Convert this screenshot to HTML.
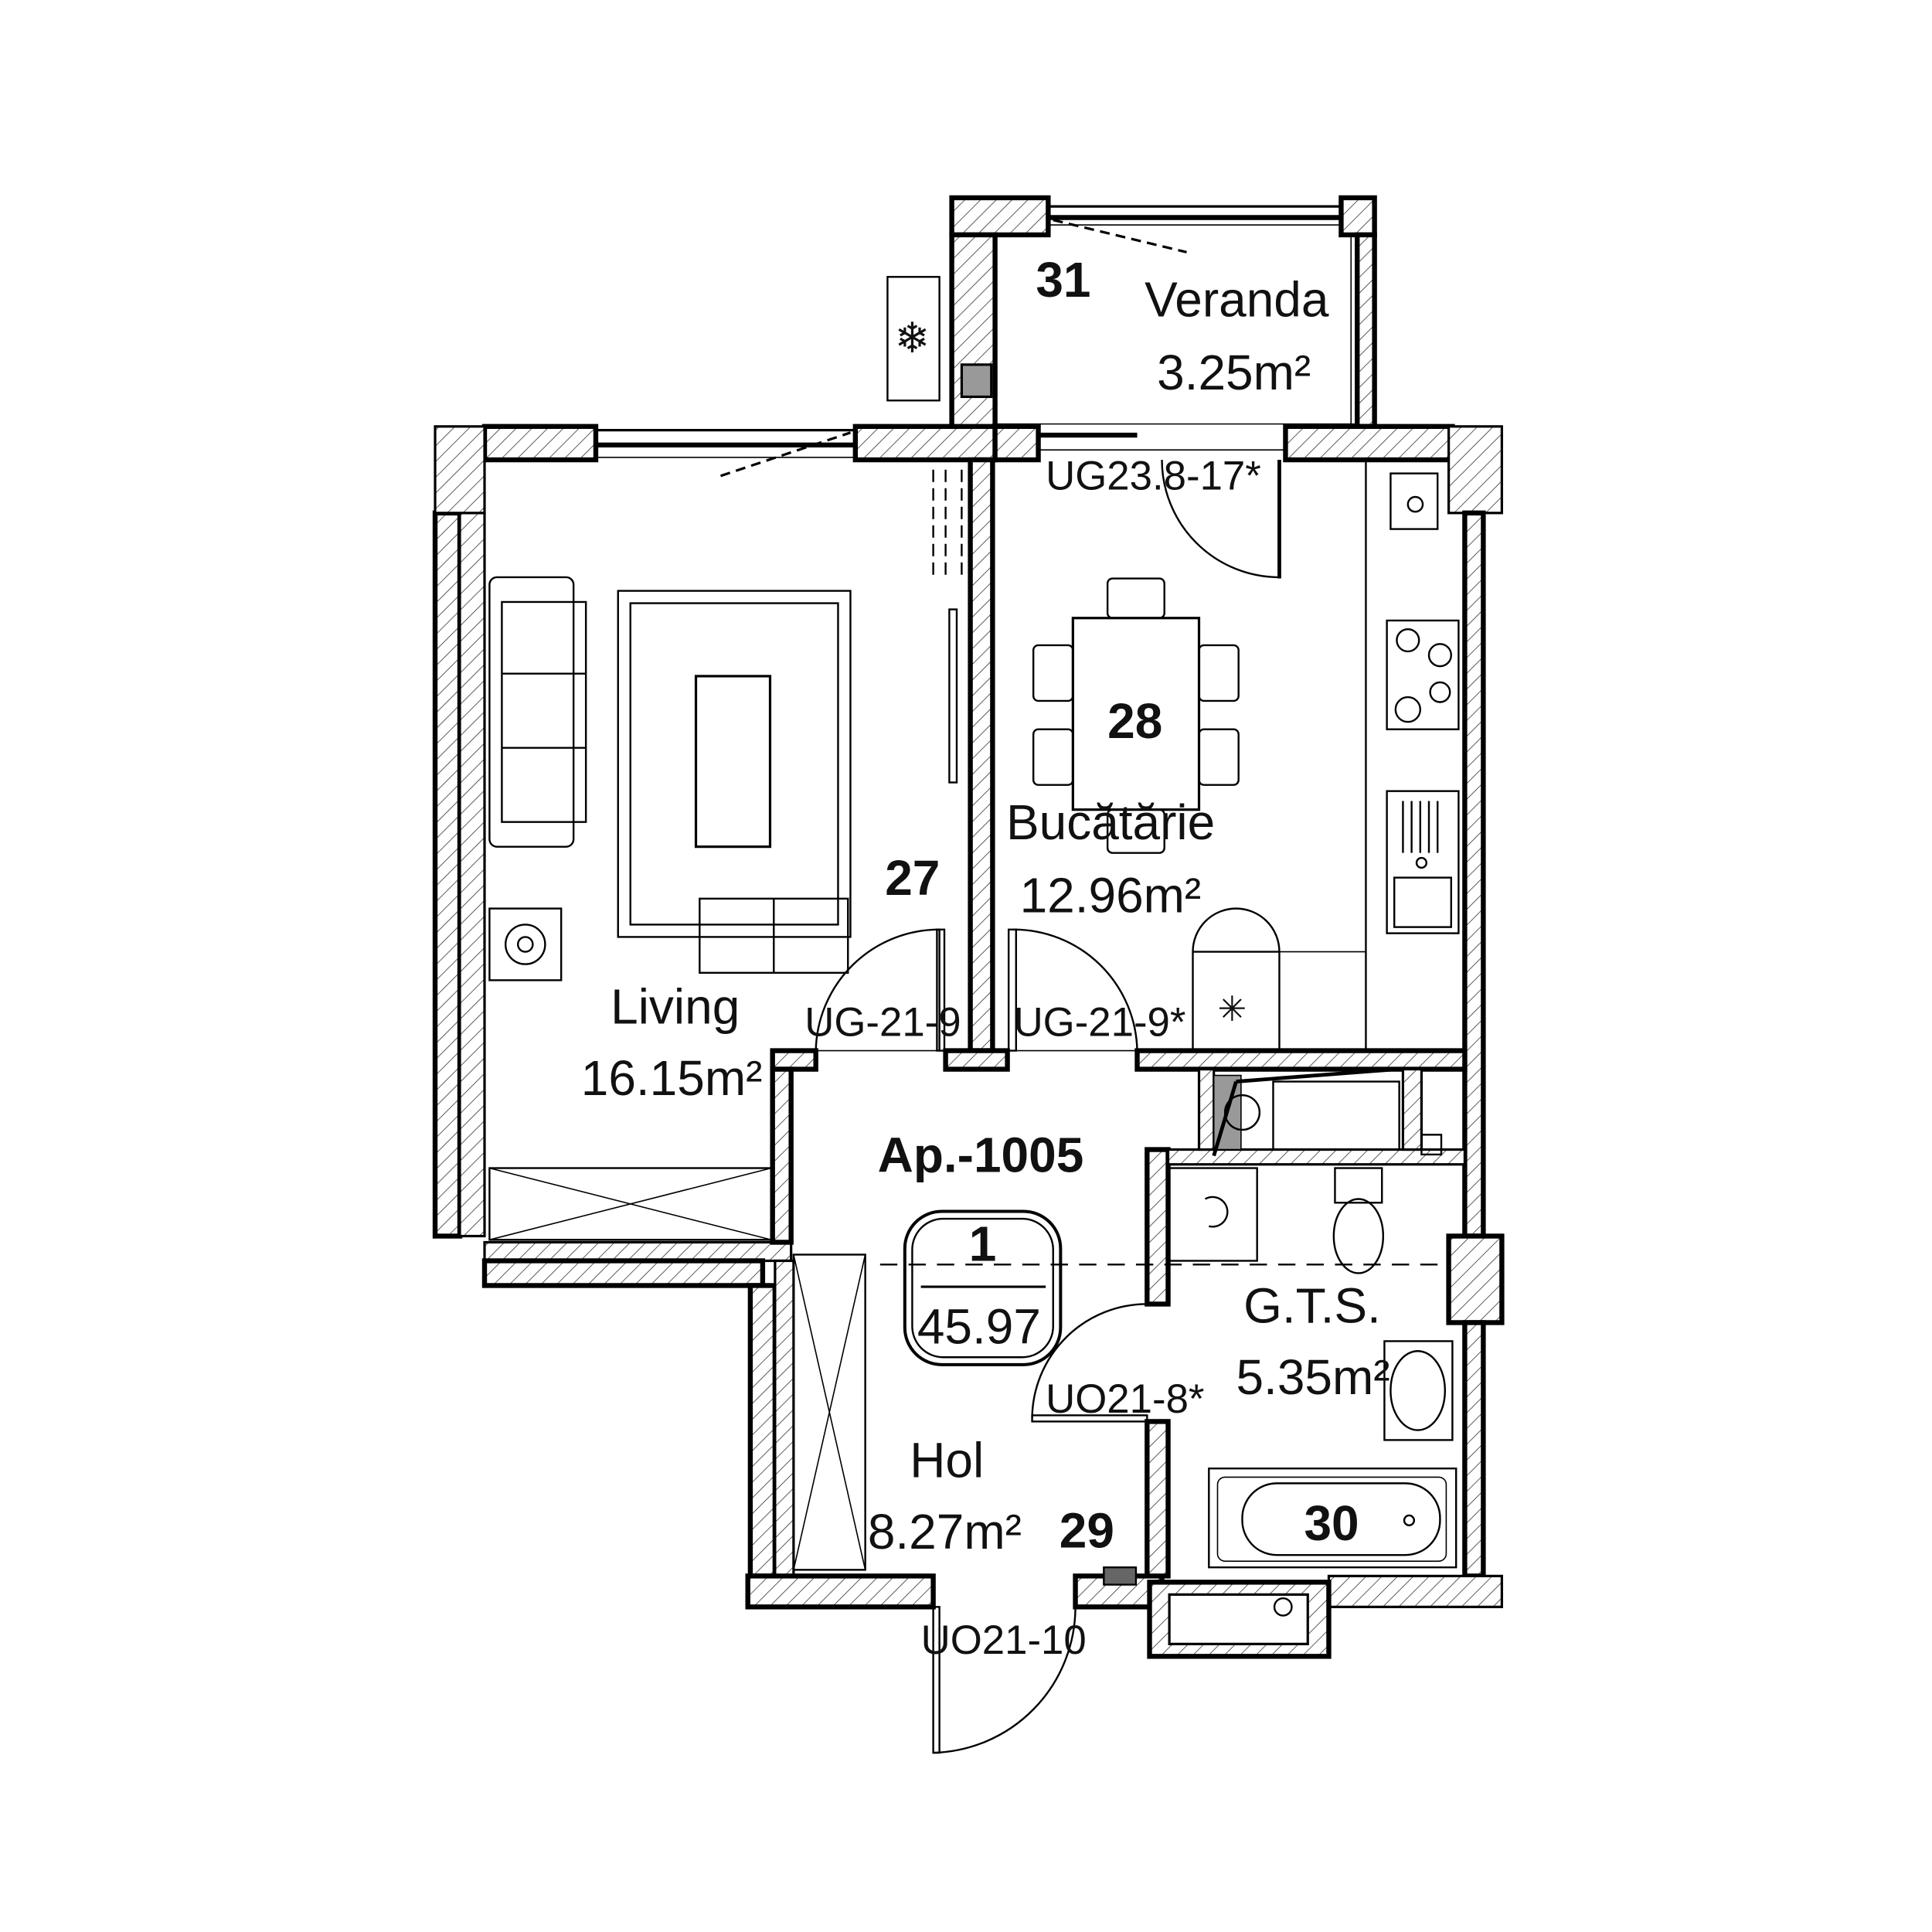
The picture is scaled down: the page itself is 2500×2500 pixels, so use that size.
<!DOCTYPE html>
<html><head><meta charset="utf-8"><style>
html,body{margin:0;padding:0;background:#fff}
svg{display:block}
text{font-family:"Liberation Sans",sans-serif;fill:#111}
</style></head><body>
<svg width="2500" height="2500" viewBox="0 0 1563 1563" xmlns="http://www.w3.org/2000/svg">
<defs>
<pattern id="h" width="9" height="9" patternUnits="userSpaceOnUse" patternTransform="rotate(45)">
<rect width="9" height="9" fill="#fff"/><line x1="0" y1="0" x2="0" y2="9" stroke="#333" stroke-width="1"/></pattern>
</defs>
<g stroke="#000" fill="url(#h)" stroke-width="4">
<rect x="392" y="345" width="90" height="27"/>
<rect x="692" y="345" width="113" height="27"/>
<rect x="770" y="160" width="78" height="30"/>
<rect x="770" y="190" width="35" height="155"/>
<rect x="1085" y="160" width="27" height="30"/>
<rect x="1098" y="190" width="14" height="155"/>
<rect x="352" y="415" width="20" height="585"/>
<rect x="372" y="415" width="20" height="585" stroke-width="2"/>
<rect x="352" y="345" width="40" height="70" stroke-width="2"/>
<rect x="785" y="372" width="18" height="478"/>
<rect x="805" y="345" width="35" height="27"/>
<rect x="1040" y="345" width="135" height="27"/>
<rect x="1172" y="345" width="43" height="70" stroke-width="2"/>
<rect x="1185" y="415" width="15" height="585"/>
<rect x="1172" y="1000" width="43" height="70"/>
<rect x="1185" y="1070" width="15" height="205"/>
<rect x="920" y="850" width="265" height="15"/>
<rect x="765" y="850" width="50" height="15"/>
<rect x="625" y="850" width="35" height="15"/>
<rect x="392" y="1005" width="248" height="15" stroke-width="2"/>
<rect x="392" y="1020" width="225" height="20"/>
<rect x="625" y="865" width="15" height="140"/>
<rect x="607" y="1040" width="20" height="235"/>
<rect x="627" y="1020" width="15" height="255" stroke-width="2"/>
<rect x="605" y="1275" width="150" height="25"/>
<rect x="870" y="1275" width="70" height="25"/>
<rect x="1075" y="1275" width="140" height="25" stroke-width="2"/>
<rect x="928" y="930" width="17" height="125"/>
<rect x="928" y="1150" width="17" height="125"/>
<rect x="945" y="930" width="240" height="12" stroke-width="2"/>
<rect x="970" y="865" width="12" height="65" stroke-width="2"/>
<rect x="1135" y="865" width="15" height="65" stroke-width="2"/>
<rect x="930" y="1280" width="145" height="60"/>
</g>
<rect x="946" y="1290" width="112" height="40" fill="#fff" stroke="#000" stroke-width="2"/>
<circle cx="1038" cy="1300" r="7" fill="none" stroke="#000" stroke-width="1.5"/>
<g stroke="#000" fill="none">
<line x1="482" y1="348" x2="692" y2="348" stroke-width="2"/>
<line x1="482" y1="360" x2="692" y2="360" stroke-width="4"/>
<line x1="482" y1="370" x2="692" y2="370" stroke-width="1"/>
<line x1="848" y1="167" x2="1085" y2="167" stroke-width="2"/>
<line x1="848" y1="176" x2="1085" y2="176" stroke-width="4"/>
<line x1="848" y1="182" x2="1085" y2="182" stroke-width="1"/>
<line x1="840" y1="352" x2="920" y2="352" stroke-width="4"/>
<line x1="840" y1="364" x2="1040" y2="364" stroke-width="1"/>
<line x1="805" y1="343" x2="1098" y2="343" stroke-width="1"/>
<line x1="1093" y1="190" x2="1093" y2="345" stroke-width="1"/>
<line x1="583" y1="385" x2="688" y2="350" stroke-width="2" stroke-dasharray="8,5"/>
<line x1="852" y1="178" x2="960" y2="204" stroke-width="2" stroke-dasharray="8,5"/>
<path d="M940 372 A95 95 0 0 0 1035 467" stroke-width="1.5"/>
<line x1="1035" y1="372" x2="1035" y2="468" stroke-width="3"/>
<path d="M660 850 A100 100 0 0 1 760 752 L760 850" stroke-width="1.5"/>
<rect x="758" y="752" width="6" height="98" stroke-width="1.5"/>
<path d="M920 850 A100 100 0 0 0 820 752" stroke-width="1.5"/>
<rect x="816" y="752" width="6" height="98" stroke-width="1.5"/>
<path d="M835 1147 A93 93 0 0 1 928 1055" stroke-width="1.5"/>
<rect x="835" y="1145" width="93" height="5" stroke-width="1.5"/>
<path d="M755 1418 A118 118 0 0 0 870 1300" stroke-width="1.5"/>
<rect x="755" y="1300" width="5" height="118" stroke-width="1.5"/>
<line x1="660" y1="850" x2="920" y2="850" stroke-width="1"/>
<line x1="712" y1="1023" x2="1170" y2="1023" stroke-width="1.5" stroke-dasharray="14,9"/>
<rect x="396" y="467" width="68" height="218" rx="6" stroke-width="1.5"/>
<rect x="406" y="487" width="68" height="178" stroke-width="1.5"/>
<line x1="406" y1="545" x2="474" y2="545" stroke-width="1.5"/>
<line x1="406" y1="605" x2="474" y2="605" stroke-width="1.5"/>
<rect x="500" y="478" width="188" height="280" stroke-width="1.5"/>
<rect x="510" y="488" width="168" height="260" stroke-width="1.5"/>
<rect x="563" y="547" width="60" height="138" stroke-width="2"/>
<rect x="566" y="727" width="120" height="60" stroke-width="1.5"/>
<line x1="626" y1="727" x2="626" y2="787" stroke-width="1.5"/>
<rect x="768" y="493" width="6" height="140" stroke-width="1.5"/>
<rect x="396" y="735" width="58" height="58" stroke-width="1.5"/>
<circle cx="425" cy="764" r="16" stroke-width="1.5"/><circle cx="425" cy="764" r="6" stroke-width="1.5"/>
<rect x="396" y="945" width="228" height="58" stroke-width="1.5"/>
<path d="M396 945 L624 1003 M396 1003 L624 945" stroke-width="1"/>
<rect x="642" y="1015" width="58" height="255" stroke-width="1.5"/>
<path d="M642 1015 L700 1270 M700 1015 L642 1270" stroke-width="1"/>
<path d="M755 380 V470 M765 380 V470 M778 380 V470" stroke-width="1.5" stroke-dasharray="10,5"/>
<rect x="718" y="224" width="42" height="100" stroke-width="1.5"/>
<text x="738" y="285" font-size="34" text-anchor="middle" stroke="none">❄</text>
<rect x="778" y="295" width="24" height="26" fill="#999" stroke-width="2"/>
<rect x="868" y="500" width="102" height="155" stroke-width="2"/>
<rect x="896" y="468" width="46" height="32" rx="4" stroke-width="1.5"/>
<rect x="896" y="655" width="46" height="35" rx="4" stroke-width="1.5"/>
<rect x="836" y="522" width="32" height="45" rx="4" stroke-width="1.5"/>
<rect x="836" y="590" width="32" height="45" rx="4" stroke-width="1.5"/>
<rect x="970" y="522" width="32" height="45" rx="4" stroke-width="1.5"/>
<rect x="970" y="590" width="32" height="45" rx="4" stroke-width="1.5"/>
<line x1="1105" y1="372" x2="1105" y2="850" stroke-width="1.5"/>
<rect x="1125" y="383" width="38" height="45" stroke-width="1.5"/>
<circle cx="1145" cy="408" r="6" stroke-width="1.5"/>
<rect x="1122" y="502" width="58" height="88" stroke-width="1.5"/>
<circle cx="1139" cy="518" r="9" stroke-width="1.5"/><circle cx="1165" cy="530" r="9" stroke-width="1.5"/>
<circle cx="1139" cy="574" r="10" stroke-width="1.5"/><circle cx="1165" cy="560" r="8" stroke-width="1.5"/>
<rect x="1122" y="640" width="58" height="115" stroke-width="1.5"/>
<rect x="1128" y="710" width="46" height="40" stroke-width="1.5"/>
<path d="M1135 648 V690 M1142 648 V690 M1149 648 V690 M1156 648 V690 M1163 648 V690" stroke-width="1.5"/>
<circle cx="1150" cy="698" r="4" stroke-width="1.5"/>
<path d="M965 850 V770 A35 35 0 0 1 1035 770 V850 M965 770 H1035" stroke-width="1.5"/>
<line x1="1035" y1="770" x2="1105" y2="770" stroke-width="1"/>
<rect x="982" y="870" width="22" height="60" fill="#999" stroke-width="1"/>
<rect x="1030" y="875" width="102" height="55" stroke-width="1.5"/>
<circle cx="1005" cy="900" r="14" stroke-width="1.5"/>
<line x1="982" y1="935" x2="1000" y2="875" stroke-width="3"/>
<line x1="1000" y1="875" x2="1130" y2="865" stroke-width="3"/>
<rect x="1150" y="918" width="16" height="16" stroke-width="1.5"/>
<rect x="945" y="945" width="72" height="75" stroke-width="1.5"/>
<path d="M975 970 A12 12 0 1 1 978 992" stroke-width="1.5"/>
<rect x="1080" y="945" width="38" height="28" stroke-width="1.5"/>
<ellipse cx="1099" cy="1000" rx="20" ry="30" stroke-width="1.5"/>
<rect x="1120" y="1085" width="55" height="80" stroke-width="1.5"/>
<ellipse cx="1147" cy="1125" rx="22" ry="32" stroke-width="1.5"/>
<rect x="978" y="1188" width="200" height="80" stroke-width="1.5"/>
<rect x="985" y="1195" width="185" height="68" rx="6" stroke-width="1"/>
<rect x="1005" y="1200" width="160" height="58" rx="28" stroke-width="1.5"/>
<circle cx="1140" cy="1230" r="4" stroke-width="1.5"/>
<rect x="893" y="1268" width="26" height="14" fill="#666" stroke-width="1.5"/>
<rect x="732" y="980" width="126" height="124" rx="30" stroke-width="2.5"/>
<rect x="738" y="986" width="114" height="112" rx="25" stroke-width="1.5"/>
<line x1="745" y1="1041" x2="846" y2="1041" stroke-width="2"/>
</g>
<g font-size="40">
<text x="926" y="256">Veranda</text>
<text x="936" y="315">3.25m²</text>
<text x="494" y="828">Living</text>
<text x="470" y="886">16.15m²</text>
<text x="814" y="679">Bucătărie</text>
<text x="825" y="738">12.96m²</text>
<text x="1006" y="1070">G.T.S.</text>
<text x="1000" y="1128">5.35m²</text>
<text x="736" y="1195">Hol</text>
<text x="702" y="1253">8.27m²</text>
<text x="742" y="1087">45.97</text>
</g>
<g font-size="33">
<text x="846" y="396">UG23.8-17*</text>
<text x="651" y="838">UG-21-9</text>
<text x="820" y="838">UG-21-9*</text>
<text x="846" y="1143">UO21-8*</text>
<text x="745" y="1338">UO21-10</text>
</g>
<g font-size="40" font-weight="bold">
<text x="838" y="240">31</text>
<text x="896" y="597">28</text>
<text x="716" y="724">27</text>
<text x="857" y="1252">29</text>
<text x="1055" y="1246">30</text>
<text x="710" y="948">Ap.-1005</text>
<text x="795" y="1020" text-anchor="middle">1</text>
</g>
<text x="985" y="826" font-size="28">✳</text>
</svg>
</body></html>
